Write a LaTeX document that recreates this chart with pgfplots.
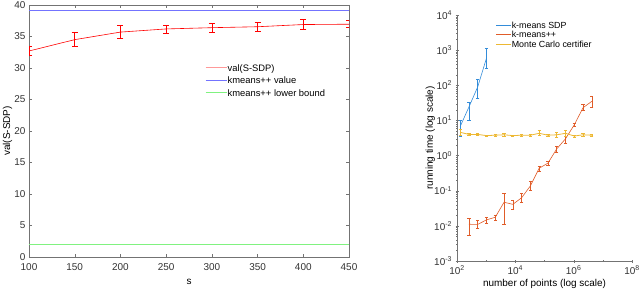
\documentclass[border=0pt]{standalone}
\usepackage{fontspec}
\setmainfont{Liberation Sans}
\usepackage{pgfplots}
\usepackage{pgfplotstable}
\pgfplotsset{compat=1.18}
\definecolor{mblue}{rgb}{0.2,0.55,0.85}
\definecolor{morange}{rgb}{0.88,0.36,0.16}
\definecolor{myellow}{rgb}{0.93,0.72,0.2}
\definecolor{lblue}{rgb}{0.45,0.45,1}
\definecolor{lgreen}{rgb}{0.5,0.95,0.5}

\pgfplotstableread{
x y ep em
100 32.7 0.7 0.65
150 34.5 1.2 1.1
200 35.7 1.0 1.0
250 36.2 0.6 0.7
300 36.4 0.7 0.7
350 36.55 0.65 0.65
400 36.9 0.8 0.8
450 36.95 0.55 0.55
}\ssdp

\pgfplotstableread{
x y ep em
128 6.7 3.3 3.2
256 24 8 13.6
512 90 54 47
1024 590 510 281
}\sdp

\pgfplotstableread{
x y ep em
256 0.0111 0.0054 0.0056
512 0.011 0.003 0.0025
1024 0.0148 0.0032 0.0029
2048 0.0176 0.0028 0.0028
4096 0.047 0.038 0.036
8192 0.041 0.014 0.011
16384 0.063 0.022 0.017
32768 0.137 0.043 0.032
65536 0.436 0.05 0.07
131072 0.61 0.06 0.07
262144 1.55 0.25 0.3
524288 3.0 1.2 0.8
1048576 7.5 0.9 0.8
2097152 23 5 3
4194304 35 15 11
}\kpp

\pgfplotstableread{
x y ep em
128 4.6 0.9 0.9
256 4.0 0.3 0.3
512 4.0 0.3 0.3
1024 3.7 0.2 0.2
2048 3.8 0.2 0.2
4096 3.9 0.3 0.3
8192 3.7 0.2 0.2
16384 3.8 0.2 0.2
32768 3.8 0.2 0.2
65536 4.3 0.9 0.6
131072 3.8 0.2 0.2
262144 3.9 0.7 0.6
524288 4.3 1.1 0.8
1048576 3.6 0.2 0.2
2097152 3.9 0.3 0.3
4194304 3.8 0.2 0.2
}\mc

\begin{document}
\begin{tikzpicture}[x=1bp,y=1bp]
\path[use as bounding box] (0,0) rectangle (640,289);
\begin{axis}[
  at={(29bp,32bp)}, anchor=south west,
  width=320bp, height=252bp, scale only axis,
  xmin=100, xmax=450, ymin=0, ymax=40,
  xtick={100,150,...,450}, ytick={0,5,...,40},
  /pgf/number format/assume math mode=true,
  tick label style={font=\fontsize{10}{11}\selectfont, text=black!80},
  xticklabel style={yshift=-2.8bp},
  label style={font=\fontsize{11}{12}\selectfont, text=black!85},
  xlabel={s}, ylabel={val(S-SDP)},
  every axis x label/.style={at={(axis description cs:0.5,-0.098)}, anchor=center},
  every axis y label/.style={at={(axis description cs:-0.067,0.5)}, rotate=90, anchor=center},
  axis line style={black!55}, tick style={black!55},
  major tick length=3bp,
  legend style={at={(rel axis cs:0.55,0.767)}, anchor=north west, draw=none, fill=none,
    font=\fontsize{9.4}{10}\selectfont, row sep=4.6bp, inner sep=0pt,
    nodes={inner sep=0.5bp, text height=6.8bp, text depth=0bp}},
  legend cell align=left,
  legend image code/.code={\draw[#1] (0bp,0bp) -- (21bp,0bp);},
]
\addplot[red, line width=0.6pt, forget plot,
  error bars/.cd, y dir=both, y explicit,
  error bar style={red, line width=0.6pt},
  error mark options={rotate=90, mark size=3bp, red, line width=0.6pt}]
  table[x=x, y=y, y error plus=ep, y error minus=em] {\ssdp};
\addplot[lblue, line width=0.8pt, forget plot]
  coordinates {(100,39.2) (450,39.2)};
\addplot[lgreen, line width=0.8pt, forget plot]
  coordinates {(100,2.05) (450,2.05)};
\addlegendimage{red!40, line width=1pt}
\addlegendentry{val(S-SDP)}
\addlegendimage{lblue, line width=1pt}
\addlegendentry{kmeans++ value}
\addlegendimage{lgreen, line width=1pt}
\addlegendentry{kmeans++ lower bound}
\end{axis}

\begin{axis}[
  at={(457bp,28bp)}, anchor=south west,
  width=175bp, height=246bp, scale only axis,
  xmode=log, ymode=log,
  xmin=1e2, xmax=1e8, ymin=1e-3, ymax=1e4,
  axis lines=left, axis line style={-, black!55}, tick style={black!55},
  major tick length=3bp, minor tick length=1.5bp,
  xtick={1e2,1e4,1e6,1e8},
  xticklabels={10\textsuperscript{2},10\textsuperscript{4},10\textsuperscript{6},10\textsuperscript{8}},
  minor xtick={1e3,1e5,1e7},
  ytick={1e-3,1e-2,1e-1,1,1e1,1e2,1e3,1e4},
  yticklabels={10\textsuperscript{-3},10\textsuperscript{-2},10\textsuperscript{-1},10\textsuperscript{0},10\textsuperscript{1},10\textsuperscript{2},10\textsuperscript{3},10\textsuperscript{4}},
  tick label style={font=\fontsize{10}{11}\selectfont, text=black!80},
  label style={font=\fontsize{10.8}{12}\selectfont, text=black!85},
  xlabel={number of points (log scale)}, ylabel={running time (log scale)},
  every axis x label/.style={at={(axis description cs:0.5,-0.092)}, anchor=center},
  every axis y label/.style={at={(axis description cs:-0.152,0.5)}, rotate=90, anchor=center},
  legend style={at={(rel axis cs:0.22,0.972)}, anchor=north west, draw=none, fill=none,
    font=\fontsize{8.9}{9}\selectfont, row sep=2.2bp, inner sep=0pt,
    nodes={inner sep=0.3bp, text height=6.4bp, text depth=0bp}},
  legend cell align=left,
  legend image code/.code={\draw[#1] (0bp,0bp) -- (15bp,0bp);},
]
\addplot[mblue, line width=0.6pt,
  error bars/.cd, y dir=both, y explicit,
  error bar style={mblue, line width=0.6pt},
  error mark options={rotate=90, mark size=1.6bp, mblue, line width=0.6pt}]
  table[x=x, y=y, y error plus=ep, y error minus=em] {\sdp};
\addlegendentry{k-means SDP}
\addplot[morange, line width=0.6pt,
  error bars/.cd, y dir=both, y explicit,
  error bar style={morange, line width=0.6pt},
  error mark options={rotate=90, mark size=1.6bp, morange, line width=0.6pt}]
  table[x=x, y=y, y error plus=ep, y error minus=em] {\kpp};
\addlegendentry{k-means++}
\addplot[myellow, line width=0.8pt,
  error bars/.cd, y dir=both, y explicit,
  error bar style={myellow, line width=0.6pt},
  error mark options={rotate=90, mark size=1.6bp, myellow, line width=0.6pt}]
  table[x=x, y=y, y error plus=ep, y error minus=em] {\mc};
\addlegendentry{Monte Carlo certifier}
\end{axis}
\end{tikzpicture}
\end{document}
